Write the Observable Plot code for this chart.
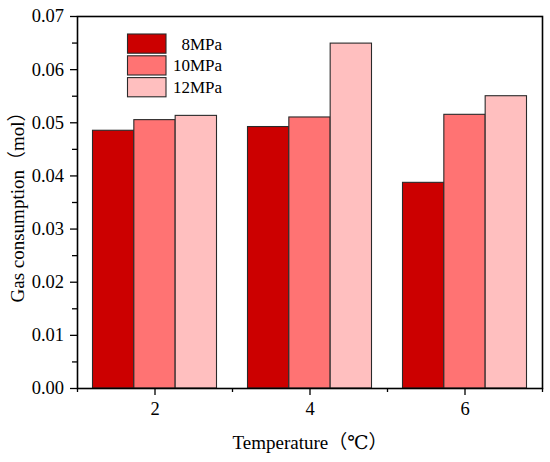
<!DOCTYPE html>
<html>
<head>
<meta charset="utf-8">
<script src="https://cdn.jsdelivr.net/npm/d3@7"></script>
<script src="https://cdn.jsdelivr.net/npm/@observablehq/plot@0.6"></script>
<style>
  html, body { margin: 0; padding: 0; background: #fff; }
  #chart { width: 550px; height: 462px; }
  #chart svg, #chart svg text {
    font-family: "Liberation Serif", "DejaVu Serif", "Noto Sans CJK SC", serif !important;
  }
  #chart svg text { fill: #000; }
</style>
</head>
<body>
<div id="chart"></div>
<script>
// ---- data ----
const temperatures = [2, 4, 6];
const series = ["8MPa", "10MPa", "12MPa"];
const values8MPa = [0.0485, 0.0492, 0.0387];
const values10MPa = [0.0505, 0.0510, 0.0515];
const values12MPa = [0.0513, 0.0649, 0.0550];
const colors = ["#CC0000", "#FF7373", "#FFBFBF"];
const yMajorTicks = [0, 0.01, 0.02, 0.03, 0.04, 0.05, 0.06, 0.07];
const yMinorTicks = [0.005, 0.015, 0.025, 0.035, 0.045, 0.055, 0.065];
const xMajorTicks = [2, 4, 6];
const xMinorTicks = [1, 3, 5, 7];
const xTitle = "Temperature（℃）";
const yTitle = "Gas consumption（mol）";

const valuesBySeries = [values8MPa, values10MPa, values12MPa];
const rows = temperatures.flatMap((t, i) =>
  series.map((s, k) => ({temperature: t, series: s, k, value: valuesBySeries[k][i]}))
);

const groupWidth = 1.6;            // in x units (Origin-like)
const barW = groupWidth / series.length;

const plot = Plot.plot({
  width: 550,
  height: 462,
  marginLeft: 77,
  marginRight: 8,
  marginTop: 16,
  marginBottom: 74,
  style: {color: "#000", background: "#fff"},
  x: {domain: [1, 7]},
  y: {domain: [0, 0.07]},
  color: {domain: series, range: colors},
  marks: [
    Plot.rect(rows, {
      x1: d => d.temperature - groupWidth / 2 + d.k * barW,
      x2: d => d.temperature - groupWidth / 2 + (d.k + 1) * barW,
      y1: 0,
      y2: "value",
      fill: "series",
      stroke: "#2a2a2a",
      strokeWidth: 1.1
    }),
    Plot.frame({stroke: "#000", strokeWidth: 1.6}),
    Plot.axisY(yMajorTicks, {tickSize: 7, tickPadding: 6.5, tickFormat: d3.format(".2f"), label: null, strokeWidth: 1.3, fontSize: 18.5}),
    Plot.axisY(yMinorTicks, {tickSize: 5, tickFormat: () => "", label: null, strokeWidth: 1.3}),
    Plot.axisX(xMajorTicks, {tickSize: 7, tickPadding: 6.5, label: null, strokeWidth: 1.3, fontSize: 18.5}),
    Plot.axisX(xMinorTicks, {tickSize: 4, tickFormat: () => "", label: null, strokeWidth: 1.3}),
    Plot.text([xTitle], {frameAnchor: "bottom", dy: 60, lineAnchor: "bottom", textAnchor: "middle", text: d => d, fontSize: 19}),
    Plot.text([yTitle], {frameAnchor: "left", dx: -54, rotate: -90, lineAnchor: "bottom", textAnchor: "middle", text: d => d, fontSize: 19})
  ]
});

document.getElementById("chart").appendChild(plot);

// ---- legend (inside plot area, upper left) ----
const svg = d3.select(plot);
const lg = svg.append("g").attr("class", "lg").attr("font-size", 17);
series.forEach((s, i) => {
  const y0 = 34 + i * 21.8;
  lg.append("rect")
    .attr("x", 127.5).attr("y", y0)
    .attr("width", 38.5).attr("height", 19.2)
    .attr("fill", colors[i]).attr("stroke", "#2a2a2a").attr("stroke-width", 1.1);
  lg.append("text")
    .attr("x", 222).attr("y", y0 + 9.6)
    .attr("dy", "0.35em").attr("text-anchor", "end")
    .text(s);
});
</script>
</body>
</html>
